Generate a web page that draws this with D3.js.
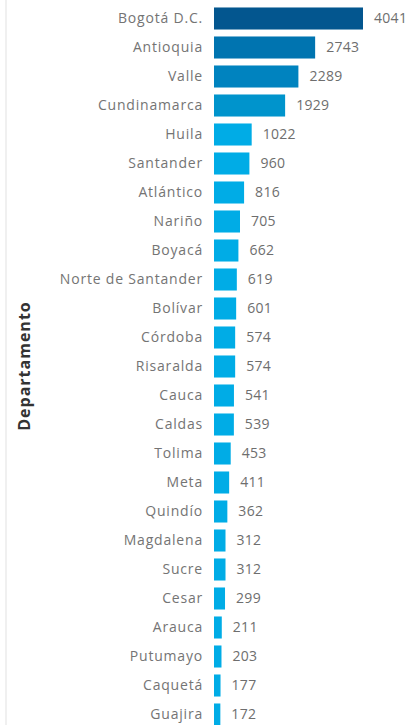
<!DOCTYPE html>
<html lang="es">
<head>
    <meta charset="UTF-8">
    <title>Departamento</title>
    <style>
        body { margin: 0; background: #fff; }
    </style>
</head>
<body>
    <div class="graph-container"></div>

    <script src="https://d3js.org/d3.v7.min.js"></script>
    <script>
        var departamentos = ["Bogotá D.C.", "Antioquia", "Valle", "Cundinamarca", "Huila", "Santander",
            "Atlántico", "Nariño", "Boyacá", "Norte de Santander", "Bolívar", "Córdoba", "Risaralda",
            "Cauca", "Caldas", "Tolima", "Meta", "Quindío", "Magdalena", "Sucre", "Cesar", "Arauca",
            "Putumayo", "Caquetá", "Guajira"];
        var casos = [4041, 2743, 2289, 1929, 1022, 960, 816, 705, 662, 619, 601, 574, 574,
            541, 539, 453, 411, 362, 312, 312, 299, 211, 203, 177, 172];

        var canvasWidth = 413;
        var canvasHeight = 725;
        var margin = { top: 4, left: 214 };

        var svg = d3.select(".graph-container")
            .append("svg")
            .attr("width", canvasWidth)
            .attr("height", canvasHeight)
            .style("font-family", "'Open Sans', sans-serif");

        // faint panel edge on the left
        svg.append("rect")
            .attr("x", 5).attr("y", 0)
            .attr("width", 2).attr("height", canvasHeight)
            .attr("fill", "#f0f0f0");

        var x = d3.scaleLinear()
            .domain([0, d3.max(casos)])
            .range([0, 149]);

        var y = d3.scaleBand()
            .domain(departamentos)
            .range([margin.top, margin.top + 29 * departamentos.length])
            .paddingInner(0.24)
            .paddingOuter(0.12);

        // darker shades for the biggest bars
        var colour = function(d) {
            if (d > 3500) return "#03568f";
            if (d > 2500) return "#0074b0";
            if (d > 2000) return "#0083bf";
            if (d > 1500) return "#0094cc";
            return "#00ace6";
        };

        var data = departamentos.map(function(d, i) { return { name: d, value: casos[i] }; });

        var g = svg.append("g")
            .attr("transform", "translate(" + margin.left + ",0)");

        g.selectAll("rect.bar")
            .data(data)
            .enter()
            .append("rect")
            .attr("class", "bar")
            .attr("x", 0)
            .attr("y", function(d) { return y(d.name); })
            .attr("width", function(d) { return x(d.value); })
            .attr("height", y.bandwidth())
            .attr("fill", function(d) { return colour(d.value); });

        g.selectAll("text.val")
            .data(data)
            .enter()
            .append("text")
            .attr("class", "val")
            .attr("x", function(d) { return x(d.value) + 11; })
            .attr("y", function(d) { return y(d.name) + y.bandwidth() / 2; })
            .attr("dy", "0.35em")
            .attr("font-size", 14)
            .attr("letter-spacing", 0.3)
            .attr("fill", "#6e6e6e")
            .text(function(d) { return d.value; });

        var axis = d3.axisLeft(y).tickSize(0).tickPadding(11);
        var axisG = g.append("g").call(axis);
        axisG.select(".domain").remove();
        axisG.selectAll("text")
            .attr("font-size", 14)
            .attr("letter-spacing", 0.8)
            .attr("font-family", "'Open Sans', sans-serif")
            .attr("fill", "#747474");

        svg.append("text")
            .attr("transform", "translate(30,366) rotate(-90)")
            .attr("text-anchor", "middle")
            .attr("font-size", 16)
            .attr("letter-spacing", 1)
            .attr("font-weight", "bold")
            .attr("fill", "#333")
            .text("Departamento");
    </script>
</body>
</html>
